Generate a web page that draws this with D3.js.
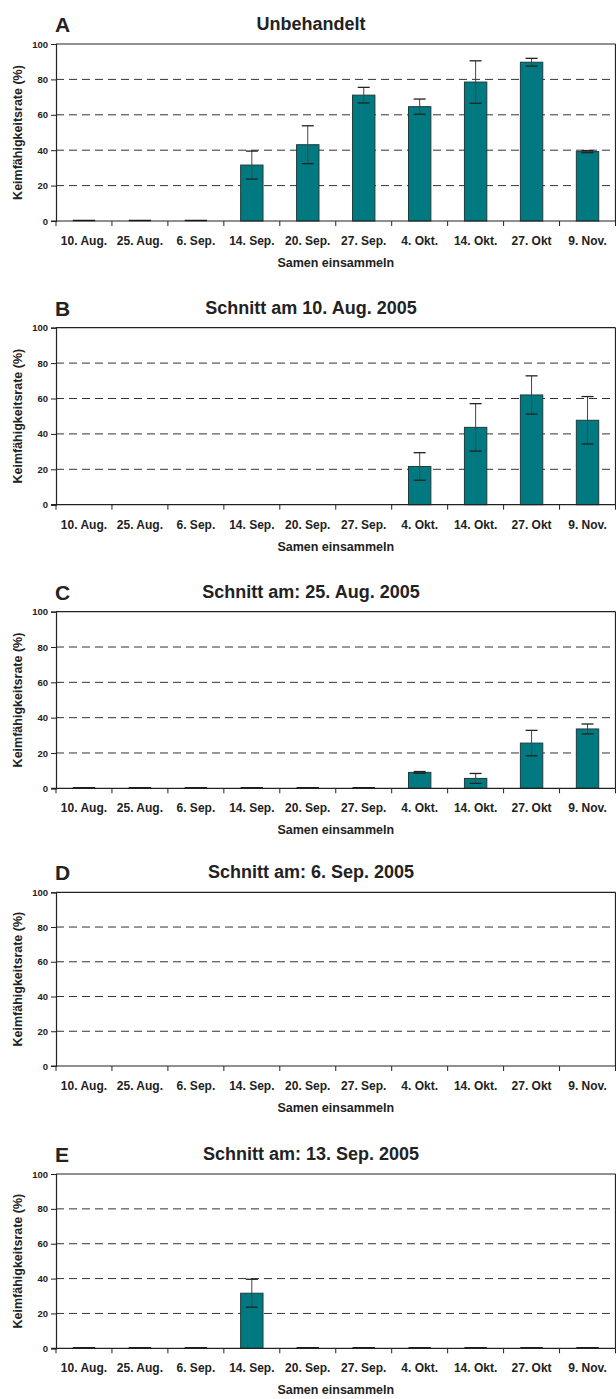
<!DOCTYPE html>
<html><head><meta charset="utf-8">
<script src="https://cdn.jsdelivr.net/npm/d3@7"></script>
<style>body{margin:0;background:#fff}svg{display:block}text{font-family:"Liberation Sans",Arial,sans-serif;fill:#222}</style>
</head><body>
<svg id="c" width="616" height="1399"></svg>
<script>
const categories = ["10. Aug.","25. Aug.","6. Sep.","14. Sep.","20. Sep.","27. Sep.","4. Okt.","14. Okt.","27. Okt","9. Nov."];
const yTicks = [0,20,40,60,80,100];
const panelLetters = ["A","B","C","D","E"];
const panelTitles = ["Unbehandelt","Schnitt am 10. Aug. 2005","Schnitt am: 25. Aug. 2005","Schnitt am: 6. Sep. 2005","Schnitt am: 13. Sep. 2005"];
const yLabel = "Keimfähigkeitsrate (%)";
const xLabel = "Samen einsammeln";

const valuesA = [0,0,0,31.6,43.1,71.1,64.6,78.5,89.7,39.2];
const errorsA = [0,0,0,7.9,10.7,4.4,4.3,12.0,2.2,0.6];
const valuesB = [null,null,null,null,null,null,21.6,43.7,62.0,47.7];
const errorsB = [null,null,null,null,null,null,7.8,13.4,10.8,13.4];
const valuesC = [0,0,0,0,0,0,9.0,5.6,25.6,33.6];
const errorsC = [0,0,0,0,0,0,0.5,2.8,7.2,2.8];
const valuesD = [null,null,null,null,null,null,null,null,null,null];
const errorsD = [null,null,null,null,null,null,null,null,null,null];
const valuesE = [0,0,0,31.6,0,0,0,0,0,0];
const errorsE = [0,0,0,8.0,0,0,0,0,0,0];

const panels = [
  {values: valuesA, errors: errorsA, top: 44, bottom: 221},
  {values: valuesB, errors: errorsB, top: 327.7, bottom: 504.7},
  {values: valuesC, errors: errorsC, top: 611.7, bottom: 788.3},
  {values: valuesD, errors: errorsD, top: 892.3, bottom: 1066},
  {values: valuesE, errors: errorsE, top: 1174, bottom: 1348.3}
];

const svg = d3.select("#c");
const left = 56, right = 615.5;
const dark = "#222";
const fillCol = "#007a80";

panels.forEach((p, i) => {
  const g = svg.append("g");
  const x = d3.scaleBand().domain(categories).range([left, right]).paddingInner(0.6).paddingOuter(0.3);
  const xb = d3.scaleBand().domain(categories).range([left, right]);
  const y = d3.scaleLinear().domain([0,100]).range([p.bottom, p.top]);

  // gridlines
  g.selectAll("line.grid").data(yTicks.filter(t => t > 0 && t < 100)).enter().append("line")
    .attr("x1", left).attr("x2", right).attr("y1", d => y(d)).attr("y2", d => y(d))
    .attr("stroke", "#333").attr("stroke-width", 1).attr("stroke-dasharray", "8,5");

  // frame top and right
  g.append("line").attr("x1", left).attr("x2", right).attr("y1", y(100)).attr("y2", y(100)).attr("stroke", dark).attr("stroke-width", 1.2);
  g.append("line").attr("x1", right).attr("x2", right).attr("y1", y(100)).attr("y2", y(0)).attr("stroke", dark).attr("stroke-width", 1.2);

  const data = categories.map((c, k) => ({c, v: p.values[k], e: p.errors[k]}));

  // bars
  g.selectAll("rect.bar").data(data.filter(d => d.v !== null && d.v > 0)).enter().append("rect")
    .attr("x", d => x(d.c)).attr("width", x.bandwidth())
    .attr("y", d => y(d.v)).attr("height", d => y(0) - y(d.v))
    .attr("fill", fillCol).attr("stroke", "#1d3b3d").attr("stroke-width", 1);
  // zero bars appear as short marks on the axis
  g.selectAll("line.zero").data(data.filter(d => d.v === 0)).enter().append("line")
    .attr("x1", d => x(d.c)).attr("x2", d => x(d.c) + x.bandwidth())
    .attr("y1", y(0) - 0.5).attr("y2", y(0) - 0.5).attr("stroke", "#111").attr("stroke-width", 1.5);

  // error bars
  const eb = data.filter(d => d.v !== null && d.e > 0);
  const cap = 6;
  g.selectAll("line.ev").data(eb).enter().append("line")
    .attr("x1", d => x(d.c) + x.bandwidth()/2).attr("x2", d => x(d.c) + x.bandwidth()/2)
    .attr("y1", d => y(d.v + d.e)).attr("y2", d => y(d.v - d.e))
    .attr("stroke", "#444").attr("stroke-width", 1);
  ["+","-"].forEach(s => {
    g.selectAll("line.cap" + (s === "+" ? "t" : "b")).data(eb).enter().append("line")
      .attr("x1", d => x(d.c) + x.bandwidth()/2 - cap).attr("x2", d => x(d.c) + x.bandwidth()/2 + cap)
      .attr("y1", d => y(s === "+" ? d.v + d.e : d.v - d.e)).attr("y2", d => y(s === "+" ? d.v + d.e : d.v - d.e))
      .attr("stroke", "#222").attr("stroke-width", 1.3);
  });

  // y axis
  const ya = g.append("g").attr("transform", `translate(${left},0)`)
    .call(d3.axisLeft(y).tickValues(yTicks).tickSize(5).tickPadding(3));
  ya.select(".domain").attr("stroke", dark).attr("stroke-width", 1.2);
  ya.selectAll(".tick line").attr("stroke", dark);
  ya.selectAll(".tick text").attr("font-size", "9.5px").attr("font-weight", "bold").style("fill", dark);

  // x axis (ticks at category boundaries)
  g.append("line").attr("x1", left - 5).attr("x2", right).attr("y1", y(0)).attr("y2", y(0)).attr("stroke", dark).attr("stroke-width", 1.2);
  const bounds = categories.map(c => xb(c)).concat([right]);
  g.selectAll("line.xt").data(bounds).enter().append("line")
    .attr("x1", d => d).attr("x2", d => d).attr("y1", y(0)).attr("y2", y(0) + 5)
    .attr("stroke", dark).attr("stroke-width", 1);
  g.selectAll("text.xl").data(categories).enter().append("text")
    .attr("x", d => xb(d) + xb.bandwidth()/2).attr("y", y(0) + 24)
    .attr("text-anchor", "middle").attr("font-size", "12px").attr("font-weight", "bold")
    .text(d => d);

  // axis titles
  g.append("text").attr("x", (left + right)/2).attr("y", y(0) + 46)
    .attr("text-anchor", "middle").attr("font-size", "12.5px").attr("font-weight", "bold").text(xLabel);
  g.append("text").attr("transform", `translate(22,${(y(0)+y(100))/2}) rotate(-90)`)
    .attr("text-anchor", "middle").attr("font-size", "12.5px").attr("font-weight", "bold").text(yLabel);

  // letter and title
  g.append("text").attr("x", 55).attr("y", y(100) - 12)
    .attr("font-size", "21px").attr("font-weight", "bold").text(panelLetters[i]);
  g.append("text").attr("x", 311).attr("y", y(100) - 14)
    .attr("text-anchor", "middle").attr("font-size", "18px").attr("font-weight", "bold").text(panelTitles[i]);
});
</script>
</body></html>
